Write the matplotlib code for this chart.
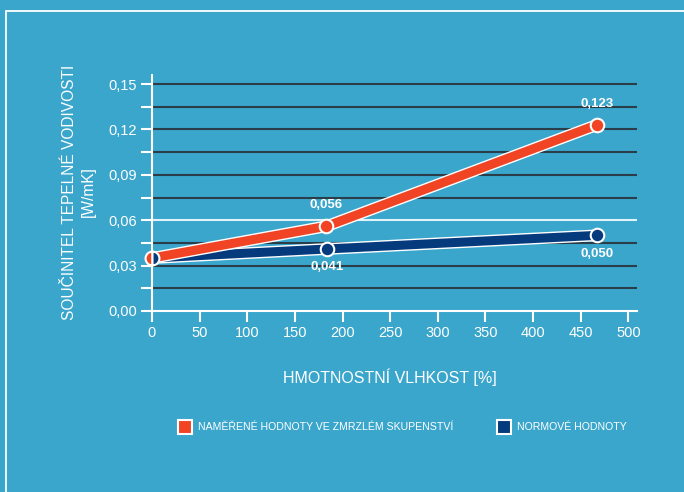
import numpy as np
import matplotlib.pyplot as plt
import matplotlib.patheffects as pe
from matplotlib.patches import Rectangle

plt.rcParams['font.family'] = ['Liberation Sans', 'DejaVu Sans']

# vlhkost [%] a součinitel tepelné vodivosti [W/mK]
vlhkost_mer = [0, 183, 467]
lambda_mer = [0.035, 0.056, 0.123]
vlhkost_norm = [0, 184, 467]
lambda_norm = [0.035, 0.041, 0.050]

popisky_mer = ['', '0,056', '0,123']
popisky_norm = ['', '0,041', '0,050']

x_ticks = [0, 50, 100, 150, 200, 250, 300, 350, 400, 450, 500]
y_ticks = [0.00, 0.03, 0.06, 0.09, 0.12, 0.15]

bg = '#3aa6cc'
cervena = '#f04424'
modra = '#053a7d'
tmava = '#2b3d48'

fig = plt.figure(figsize=(6.84, 4.92), dpi=100, facecolor=bg)
ax = fig.add_axes([0.2222, 0.3679, 0.709, 0.4797])
ax.set_facecolor(bg)

# ramecek kolem grafu
fig.patches.append(Rectangle((6/684, -0.1), 1.2, 1 - 11/492 + 0.1,
                             transform=fig.transFigure, fill=False,
                             edgecolor='white', linewidth=1.3))

ax.set_xlim(0, 509)
ax.set_ylim(0, 0.156)

# vodorovne cary mrizky
for y in np.arange(0.015, 0.151, 0.015):
    barva = '#dff2f8' if abs(y - 0.06) < 1e-9 else tmava
    ax.axhline(y, color=barva, linewidth=1.5, zorder=1)

for s in ['top', 'right']:
    ax.spines[s].set_visible(False)
for s in ['left', 'bottom']:
    ax.spines[s].set_color('white')
    ax.spines[s].set_linewidth(1.5)

ax.set_xticks(x_ticks)
ax.set_xticklabels([str(v) for v in x_ticks])
ax.set_yticks(y_ticks)
ax.set_yticklabels([f'{v:.2f}'.replace('.', ',') for v in y_ticks])
ax.set_yticks(np.arange(0.015, 0.151, 0.03), minor=True)
ax.tick_params(axis='both', colors='white', labelsize=10.5, length=8, width=1.5, pad=3)
ax.tick_params(axis='y', which='minor', colors='white', length=8, width=1.5)

obrys = [pe.Stroke(linewidth=8.5, foreground='white'), pe.Normal()]
ax.plot(vlhkost_norm, lambda_norm, color=modra, linewidth=6.5,
        path_effects=obrys, solid_capstyle='butt', zorder=3)
ax.plot(vlhkost_mer, lambda_mer, color=cervena, linewidth=6.5,
        path_effects=obrys, solid_capstyle='butt', zorder=4)
ax.scatter(vlhkost_norm[1:], lambda_norm[1:], s=95, color=modra,
           edgecolor='white', linewidth=1.5, zorder=5)
ax.scatter(vlhkost_mer[1:], lambda_mer[1:], s=95, color=cervena,
           edgecolor='white', linewidth=1.5, zorder=5)
# spolecny pocatecni bod - pulka cervena, pulka modra
ax.plot(vlhkost_mer[0], lambda_mer[0], marker='o', markersize=10,
        fillstyle='left', markerfacecolor=cervena, markerfacecoloralt=modra,
        markeredgecolor='white', markeredgewidth=1.5, zorder=6, clip_on=False)

for x, y, t in zip(vlhkost_mer, lambda_mer, popisky_mer):
    if t:
        ax.annotate(t, (x, y), xytext=(0, 11), textcoords='offset points',
                    ha='center', va='bottom', color='white', fontsize=9.5,
                    fontweight='bold')
for x, y, t in zip(vlhkost_norm, lambda_norm, popisky_norm):
    if t:
        ax.annotate(t, (x, y), xytext=(0, -9), textcoords='offset points',
                    ha='center', va='top', color='white', fontsize=9.5,
                    fontweight='bold')

fig.text(390/684, 1 - 377/492, 'HMOTNOSTNÍ VLHKOST [%]', color='white',
         fontsize=11.5, ha='center', va='center')
fig.text(79/684, 1 - 192/492, 'SOUČINITEL TEPELNÉ VODIVOSTI\n[W/mK]',
         color='white', fontsize=11.2, ha='center', va='center',
         rotation=90, multialignment='center', linespacing=1.35)

# legenda
for xs, barva, txt in [(185, cervena, 'NAMĚŘENÉ HODNOTY VE ZMRZLÉM SKUPENSTVÍ'),
                       (504, modra, 'NORMOVÉ HODNOTY')]:
    fig.patches.append(Rectangle(((xs - 7) / 684, 1 - 434/492), 14/684, 14/492,
                                 transform=fig.transFigure, facecolor=barva,
                                 edgecolor='white', linewidth=1.5))
    fig.text((xs + 13) / 684, 1 - 427.5/492, txt, color='white', fontsize=7.6,
             ha='left', va='center')

fig.savefig('out.png', dpi=100, facecolor=bg)
